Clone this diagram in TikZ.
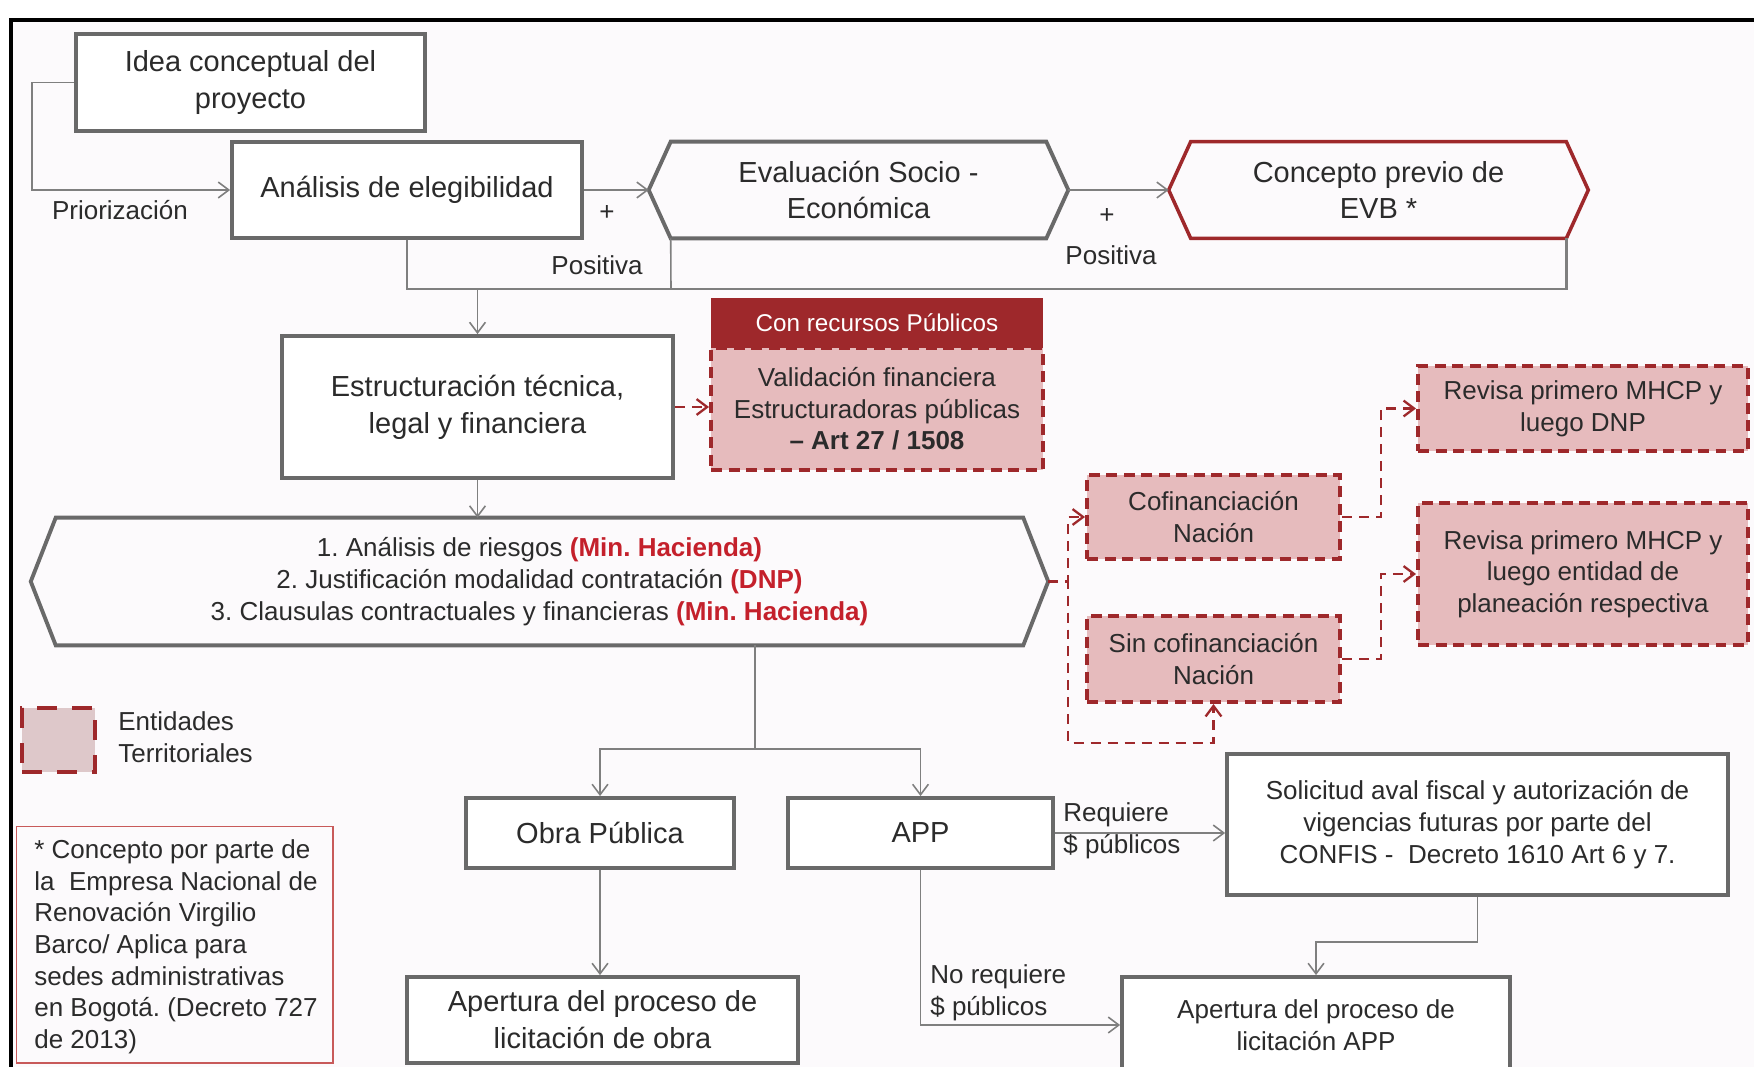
\documentclass[tikz,border=0pt]{standalone}
\usepackage{fontspec}
\setmainfont{Liberation Sans}
\usetikzlibrary{arrows.meta}
\frenchspacing
\definecolor{boxgray}{HTML}{696969}
\definecolor{linegray}{HTML}{7F7F7F}
\definecolor{darkred}{HTML}{9E282B}
\definecolor{rosebox}{HTML}{E6BBBD}
\definecolor{legendrose}{HTML}{DEC8CA}
\definecolor{redtxt}{HTML}{C4202B}
\definecolor{footred}{HTML}{C85A5A}
\definecolor{txtgray}{HTML}{2B2B2B}
\definecolor{bgtint}{HTML}{FCFAFC}
\newcommand\bigtxt{\fontsize{16.5}{21}\selectfont}
\newcommand\smalltxt{\fontsize{14.8}{18}\selectfont}
\newcommand\hexframe[3]{\draw[#3] (#1.west) -- ([xshift=#2]#1.north west) -- ([xshift=-#2]#1.north east) -- (#1.east) -- ([xshift=-#2]#1.south east) -- ([xshift=#2]#1.south west) -- cycle;}
\begin{document}
\begin{tikzpicture}[x=0.02cm,y=-0.02cm,
    every node/.style={text=txtgray,align=center,inner sep=0pt},
    box/.style={draw=boxgray,line width=2.2pt,fill=white,font=\bigtxt},
    hexa/.style={font=\bigtxt,minimum height=1.92cm,minimum width=8.38cm},
    terr/.style={draw=darkred,line width=2.3pt,dash pattern=on 0.22cm off 0.13cm,fill=rosebox,font=\smalltxt},
    conn/.style={draw=linegray,line width=0.9pt},
    arr/.style={conn,-{Straight Barb[length=6pt,width=9pt]}},
    darr/.style={draw=darkred,line width=1.3pt,dash pattern=on 0.2cm off 0.14cm,-{Straight Barb[length=6pt,width=9pt]}},
    lbl/.style={font=\smalltxt}]
    \fill[white] (0,0) rectangle (1754,1066);
    \useasboundingbox (0,0) rectangle (1754,1066);
    \fill[bgtint] (11,20) rectangle (1760,1070);
    \draw[line width=0.08cm] (11,1070) -- (11,20) -- (1760,20);

    % top row
    \node[box,minimum width=6.98cm,minimum height=1.94cm] (idea) at (250.5,82.5) {Idea conceptual del\\proyecto};
    \node[box,minimum width=7cm,minimum height=1.92cm] (anal) at (407,190) {Análisis de elegibilidad};
    \node[hexa] (eval) at (858.5,190) {Evaluación Socio -\\Económica};
    \node[hexa] (conc) at (1378.5,190) {Concepto previo de\\EVB *};
    \hexframe{eval}{0.44cm}{draw=boxgray,line width=2.2pt}
    \hexframe{conc}{0.44cm}{draw=darkred,line width=2pt}
    \node[lbl] (prio) at (120,210) {Priorización};
    \node[lbl] (mas1) at (607,213) {+};
    \node[lbl] (pos1) at (597,265) {Positiva};
    \node[lbl] (mas2) at (1107,216) {+};
    \node[lbl] (pos2) at (1111,255) {Positiva};

    % estructuracion
    \node[box,minimum width=7.82cm,minimum height=2.84cm] (estr) at (477.5,407) {Estructuración técnica,\\legal y financiera};
    \node[terr,minimum width=6.64cm,minimum height=2.44cm] (valid) at (877,409) {Validación financiera\\Estructuradoras públicas\\\textbf{– Art 27 / 1508}};
    \node[fill=darkred,text=white,minimum width=6.64cm,minimum height=1cm,font=\fontsize{13.8}{16}\selectfont] (head) at (877,323) {Con recursos Públicos};
    \node[hexa,font=\smalltxt,minimum width=20.34cm,minimum height=2.54cm] (lista) at (539.5,581.5) {1. Análisis de riesgos \textcolor{redtxt}{\textbf{(Min. Hacienda)}}\\2. Justificación modalidad contratación \textcolor{redtxt}{\textbf{(DNP)}}\\3. Clausulas contractuales y financieras \textcolor{redtxt}{\textbf{(Min. Hacienda)}}};
    \hexframe{lista}{0.5cm}{draw=boxgray,line width=2.2pt}

    % entidades territoriales
    \node[terr,minimum width=5.06cm,minimum height=1.68cm] (cofin) at (1213.5,517) {Cofinanciación\\Nación};
    \node[terr,minimum width=5.06cm,minimum height=1.72cm] (sincof) at (1213.5,659) {Sin cofinanciación\\Nación};
    \node[terr,minimum width=6.6cm,minimum height=1.7cm] (rev1) at (1583,408.5) {Revisa primero MHCP y\\luego DNP};
    \node[terr,minimum width=6.6cm,minimum height=2.84cm] (rev2) at (1583,574) {Revisa primero MHCP y\\luego entidad de\\planeación respectiva};

    % leyenda y nota
    \node[terr,fill=legendrose,dash pattern=on 0.4cm off 0.3cm,minimum width=1.46cm,minimum height=1.28cm] (legend) at (58.5,740) {};
    \node[lbl,anchor=west,align=left] (legtxt) at (118,737) {Entidades\\Territoriales};
    \node[draw=footred,line width=0.6pt,minimum width=6.34cm,minimum height=4.74cm] (nota) at (174.5,944.5) {};
    \node[lbl,anchor=west,align=left,text depth=0pt] (notatxt) at (34,944) {* Concepto por parte de\\la~ Empresa Nacional de\\Renovación Virgilio\\Barco/ Aplica para\\sedes administrativas\\en Bogotá. (Decreto 727\\de 2013)};

    % contratacion
    \node[box,minimum width=5.36cm,minimum height=1.4cm] (obra) at (600,833) {Obra Pública};
    \node[box,minimum width=5.3cm,minimum height=1.4cm] (app) at (920.5,833) {APP};
    \node[box,minimum width=7.82cm,minimum height=1.72cm] (aperobra) at (602.5,1020) {Apertura del proceso de\\licitación de obra};
    \node[box,font=\smalltxt,minimum width=10.02cm,minimum height=2.82cm] (solic) at (1477.5,824.5) {Solicitud aval fiscal y autorización de\\vigencias futuras por parte del\\CONFIS -~ Decreto 1610 Art 6 y 7.};
    \node[box,font=\smalltxt,minimum width=7.76cm,minimum height=1.92cm] (aperapp) at (1316,1025) {Apertura del proceso de\\licitación APP};
    \node[lbl,anchor=west,align=left] (req) at (1063,831) {Requiere\\\$ públicos};
    \node[lbl,anchor=west,align=left] (noreq) at (930,993) {No requiere\\\$ públicos};

    % conectores
    \draw[arr] (idea.west) -- ++(-42,0) |- (anal.west);
    \draw[arr] (anal.east) -- (eval.west);
    \draw[arr] (eval.east) -- (conc.west);
    \coordinate (junta) at (671,289);
    \draw[conn] (anal.south) |- (junta) -- ([xshift=0.44cm]eval.south west);
    \draw[conn,line width=1.4pt] ([xshift=-0.44cm]conc.south east) |- (junta);
    \draw[arr] (estr.north |- junta) -- (estr.north);
    \draw[darr] (estr.east) -- (estr.east -| valid.west);
    \draw[arr] (estr.south) -- (estr.south |- lista.north);
    \draw[darr] (lista.east) -- ++(20,0) |- (cofin.west);
    \draw[darr] (lista.east) -- ++(20,0) -- ++(0,161.5) -| (sincof.south);
    \draw[darr] (cofin.east) -- ++(39,0) |- (rev1.west);
    \draw[darr] (sincof.east) -- ++(39,0) |- (rev2.west);
    \coordinate (rama) at (755,749);
    \draw[conn] (lista.south -| rama) -- (rama);
    \draw[arr] (rama) -| (obra.north);
    \draw[arr] (rama) -| (app.north);
    \draw[arr] (obra.south) -- (obra.south |- aperobra.north);
    \draw[arr] (app.east) -- (app.east -| solic.west);
    \draw[arr] (solic.south) -- ++(0,45) -| (aperapp.north);
    \draw[arr] (app.south) |- (aperapp.west);
\end{tikzpicture}
\end{document}
